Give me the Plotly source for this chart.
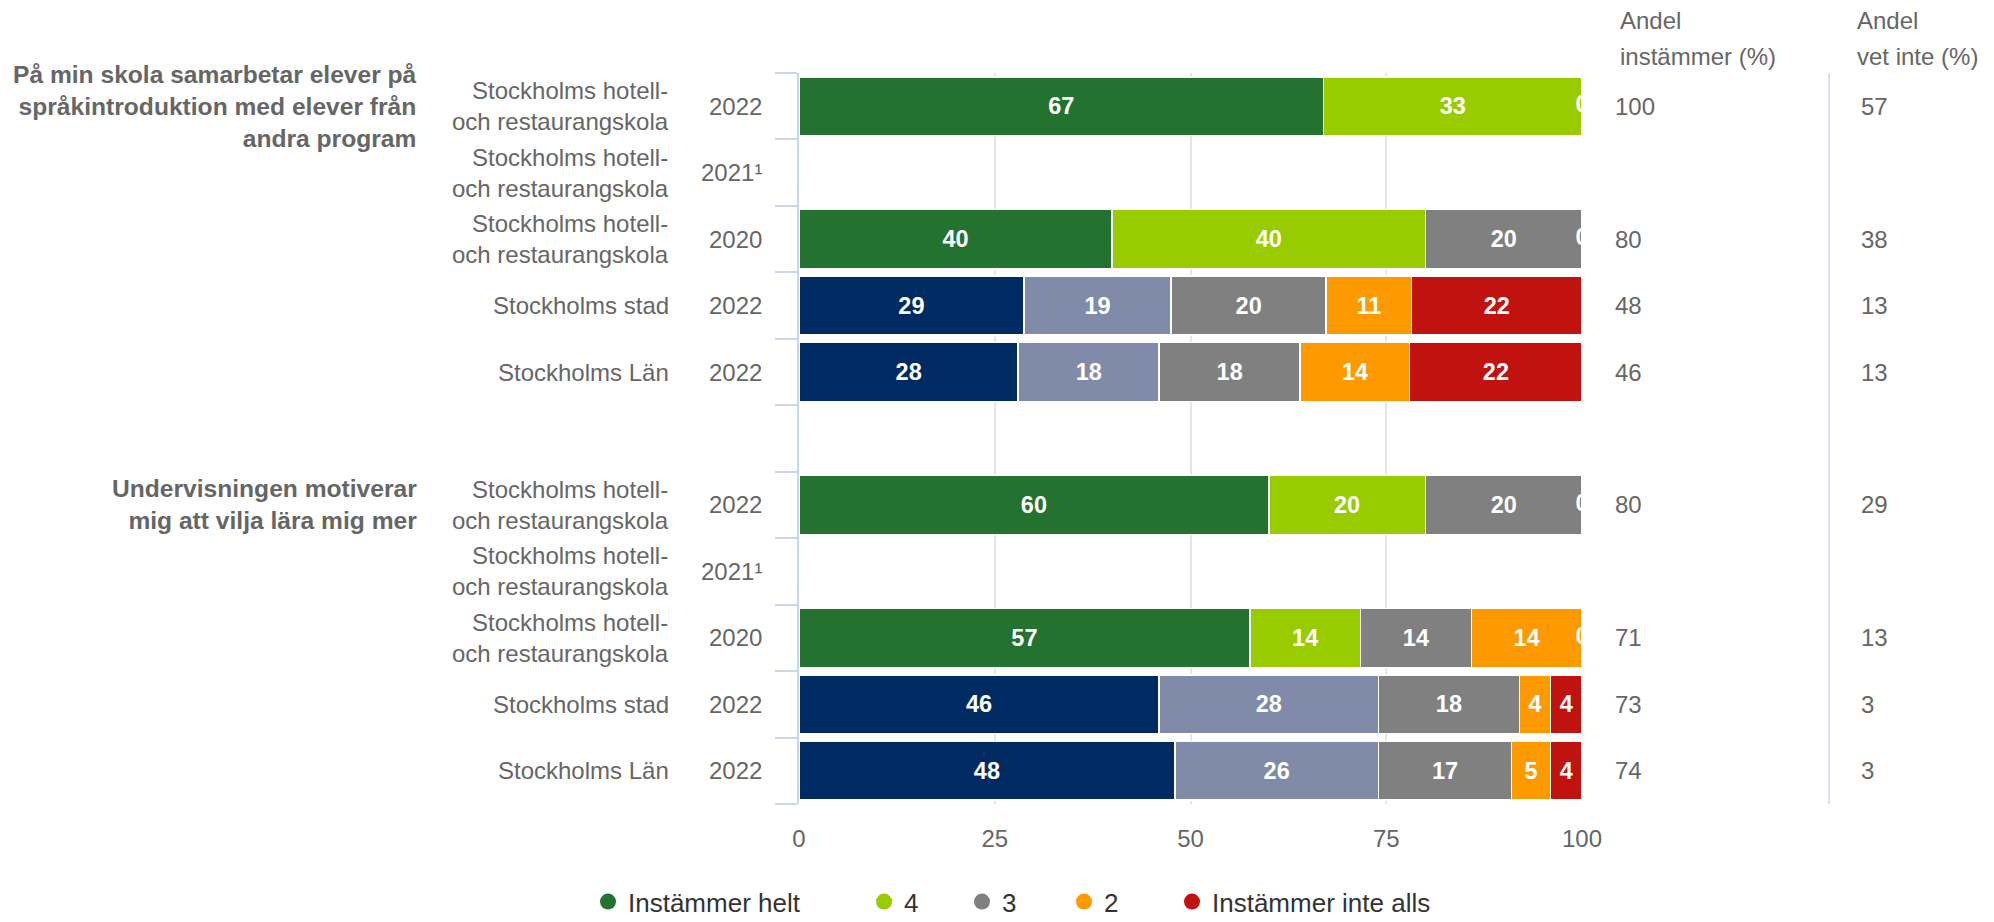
import plotly.graph_objects as go

# ---------------- data ----------------
questions = [
    "På min skola samarbetar elever på<br>språkintroduktion med elever från<br>andra program",
    "Undervisningen motiverar<br>mig att vilja lära mig mer",
]
units = [
    "Stockholms hotell-<br>och restaurangskola",
    "Stockholms hotell-<br>och restaurangskola",
    "Stockholms hotell-<br>och restaurangskola",
    "Stockholms stad",
    "Stockholms Län",
]
years = ["2022", "2021¹", "2020", "2022", "2022"]

series_names = ["Instämmer helt", "4", "3", "2", "Instämmer inte alls"]
# one list per question, rows in order of `units`
helt = [[67, None, 40, 29, 28], [60, None, 57, 46, 48]]
fyra = [[33, None, 40, 19, 18], [20, None, 14, 28, 26]]
tre = [[0, None, 20, 20, 18], [20, None, 14, 18, 17]]
tva = [[0, None, 0, 11, 14], [0, None, 14, 4, 5]]
inte_alls = [[0, None, 0, 22, 22], [0, None, 0, 4, 4]]
andel_instammer = [[100, None, 80, 48, 46], [80, None, 71, 73, 74]]
andel_vet_inte = [[57, None, 38, 13, 13], [29, None, 13, 3, 3]]
x_ticks = [0, 25, 50, 75, 100]

# ---------------- styles ----------------
school_colors = ["#23722f", "#99cc00", "#808080", "#ff9900", "#c0130f"]
compare_colors = ["#002b62", "#7f8ba8", "#808080", "#ff9900", "#c0130f"]
FONT = "Liberation Sans, Arial, Helvetica, sans-serif"
LABEL = "#666666"
legend_x_px = [610, 886, 984, 1086, 1194]   # legend symbol centres (layout)

all_series = [helt, fyra, tre, tva, inte_alls]

# row positions (one empty slot between the question groups)
n_rows = len(units)
ypos, row_unit, row_year, row_q, row_r = [], [], [], [], []
for q in range(len(questions)):
    for r in range(n_rows):
        ypos.append(q * (n_rows + 1) + r)
        row_unit.append(units[r])
        row_year.append(years[r])
        row_q.append(q)
        row_r.append(r)
is_school = [u.startswith("Stockholms hotell") for u in row_unit]

fig = go.Figure()

for s, (name, ser) in enumerate(zip(series_names, all_series)):
    vals = [ser[q][r] for q, r in zip(row_q, row_r)]
    cols = [school_colors[s] if sc else compare_colors[s] for sc in is_school]
    txt = [str(v) if (v is not None and v != 0) else "" for v in vals]
    fig.add_trace(go.Bar(
        x=vals, y=ypos, orientation="h", name=name,
        marker=dict(color=cols, line=dict(color="white", width=1.5)),
        text=txt, textposition="inside", insidetextanchor="middle",
        textangle=0, constraintext="none",
        insidetextfont=dict(family=FONT, size=23.5, color="white", weight="bold"),
        showlegend=False, hoverinfo="skip",
    ))

# "0" labels of zero-size segments at end of stack
zero_y = []
for i, (q, r) in enumerate(zip(row_q, row_r)):
    vals = [ser[q][r] for ser in all_series]
    if vals[0] is not None and any(v == 0 for v in vals):
        zero_y.append(ypos[i])
fig.add_trace(go.Scatter(
    x=[100] * len(zero_y), y=zero_y, mode="text", text=["0"] * len(zero_y),
    textposition="middle center",
    textfont=dict(family=FONT, size=23.5, color="white", weight="bold"),
    showlegend=False, hoverinfo="skip", cliponaxis=True,
))

# legend entries (circles), each in its own legend box
legend_names = ["legend"] + [f"legend{k}" for k in range(2, len(series_names) + 1)]
for s, name in enumerate(series_names):
    fig.add_trace(go.Scatter(
        x=[None], y=[None], mode="markers", name=name, legend=legend_names[s],
        marker=dict(color=school_colors[s], size=24, symbol="circle"),
    ))

annotations = []
# row labels
for i in range(len(ypos)):
    annotations.append(dict(
        x=-0.0447, xref="paper", y=ypos[i], yref="y", text=row_year[i],
        xanchor="right", yanchor="middle", showarrow=False, align="right",
        font=dict(family=FONT, size=24, color=LABEL)))
    annotations.append(dict(
        x=-0.1635, xref="paper", y=ypos[i], yref="y", text=row_unit[i],
        xanchor="right", yanchor="middle", showarrow=False, align="right",
        font=dict(family=FONT, size=24, color=LABEL)))
    q, r = row_q[i], row_r[i]
    v1 = andel_instammer[q][r]
    v2 = andel_vet_inte[q][r]
    if v1 is not None:
        annotations.append(dict(
            x=1.040, xref="paper", y=ypos[i], yref="y", text=str(v1),
            xanchor="left", yanchor="middle", showarrow=False,
            font=dict(family=FONT, size=24, color=LABEL)))
    if v2 is not None:
        annotations.append(dict(
            x=1.354, xref="paper", y=ypos[i], yref="y", text=str(v2),
            xanchor="left", yanchor="middle", showarrow=False,
            font=dict(family=FONT, size=24, color=LABEL)))
# question labels
for q, qt in enumerate(questions):
    annotations.append(dict(
        x=-0.4853, xref="paper", y=q * (n_rows + 1), yref="y", text=qt,
        xanchor="right", yanchor="middle", showarrow=False, align="right",
        font=dict(family=FONT, size=24.6, color=LABEL, weight="bold")))
# table headers
for xp, lines in [(1.046, ["Andel", "instämmer (%)"]), (1.349, ["Andel", "vet inte (%)"])]:
    for k, line in enumerate(lines):
        annotations.append(dict(
            x=xp, xref="paper", y=1, yref="paper", text=line,
            xanchor="left", yanchor="middle", yshift=53 - 36 * k, showarrow=False,
            font=dict(family=FONT, size=24, color=LABEL)))

shapes = [dict(type="line", xref="paper", yref="paper", x0=1.3155, x1=1.3155,
               y0=0, y1=1, line=dict(color="#ccd6eb", width=1.5))]

legend_common = dict(orientation="h", xref="container", yref="container",
                     y=0.022, yanchor="middle", xanchor="left",
                     font=dict(family=FONT, size=26, color="#333333"),
                     itemsizing="trace", bgcolor="rgba(0,0,0,0)")
legend_layouts = {}
for s, ln in enumerate(legend_names):
    legend_layouts[ln] = dict(legend_common, x=(legend_x_px[s] - 22) / 1994)

fig.update_layout(
    width=1994, height=922,
    margin=dict(l=799, r=412, t=73, b=118),
    paper_bgcolor="white", plot_bgcolor="white",
    barmode="stack", barnorm="percent", bargap=0.115,
    font=dict(family=FONT, color=LABEL),
    xaxis=dict(range=[0, 100], tickvals=x_ticks, showgrid=True,
               gridcolor="#e6e6e6", gridwidth=1.5, zeroline=False,
               showline=False, ticks="", ticklabelstandoff=18,
               tickfont=dict(family=FONT, size=24, color=LABEL)),
    yaxis=dict(range=[len(ypos) + 0.5, -0.5],
               tickvals=[v - 0.5 for v in range(len(ypos) + 2)],
               showticklabels=False, ticks="outside", ticklen=22,
               tickcolor="#ccd6eb", tickwidth=1.5, showgrid=False,
               zeroline=False, showline=True, linecolor="#ccd6eb", linewidth=1.5),
    annotations=annotations, shapes=shapes,
    **legend_layouts,
)

fig.write_html("out.html", config={"displayModeBar": False},
               post_script="document.body.style.margin='0px';")
